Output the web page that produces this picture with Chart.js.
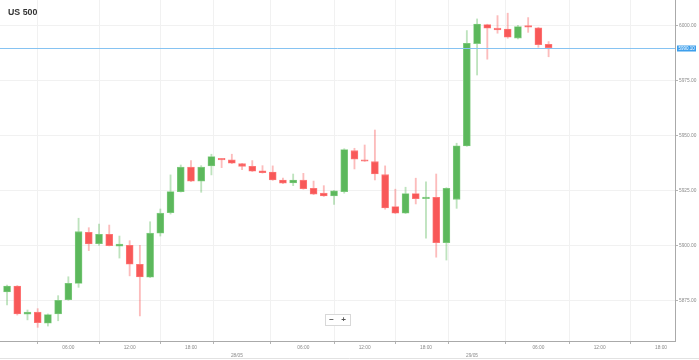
<!DOCTYPE html>
<html><head><meta charset="utf-8">
<script src="https://cdn.jsdelivr.net/npm/chart.js@4.4.0/dist/chart.umd.min.js"></script>
<style>html,body{margin:0;padding:0;background:#fff;overflow:hidden}#wrap{width:699px;height:360px;position:relative}</style>
</head><body><div id="wrap"><canvas id="c" width="699" height="360"></canvas></div>
<script>
const chartTitle = 'US 500';
const opens  = [5879.1,5881.8,5869.0,5869.9,5864.9,5869.1,5875.6,5883.0,5906.2,5901.0,5905.3,5899.9,5900.3,5891.7,5885.8,5905.8,5915.1,5924.7,5935.8,5929.4,5936.4,5939.5,5939.1,5937.4,5936.2,5934.2,5933.6,5930.0,5928.6,5929.9,5926.2,5924.0,5922.7,5924.7,5943.3,5939.1,5938.3,5932.4,5917.9,5914.9,5923.8,5921.5,5922.1,5901.5,5921.2,5945.5,5992.0,6000.6,5999.0,5998.6,5994.5,6000.0,5999.2,5991.7];
const highs  = [5882.2,5882.0,5870.9,5871.5,5869.1,5877.4,5886.0,5912.6,5908.3,5910.0,5909.5,5904.5,5902.4,5900.3,5911.0,5916.8,5932.3,5936.8,5938.8,5936.5,5941.7,5939.6,5941.7,5937.6,5938.8,5936.5,5936.4,5930.8,5932.7,5933.0,5929.5,5927.4,5925.3,5944.2,5944.4,5945.9,5952.7,5936.4,5925.8,5926.7,5930.8,5929.2,5932.7,5926.5,5946.7,5997.9,6003.2,6000.8,6004.7,6005.8,6000.3,6003.8,5999.4,5992.9];
const lows   = [5873.2,5868.6,5866.4,5863.0,5863.6,5866.0,5875.3,5881.2,5897.9,5900.3,5900.0,5894.5,5886.4,5868.2,5885.6,5904.5,5914.5,5924.5,5929.2,5924.4,5932.3,5935.6,5937.4,5934.7,5933.8,5933.1,5929.8,5928.3,5927.4,5925.8,5923.3,5922.5,5918.9,5924.0,5935.0,5938.4,5930.0,5916.7,5914.7,5914.7,5919.1,5903.5,5894.9,5893.6,5917.1,5945.3,5977.7,5984.9,5996.7,5994.4,5994.1,5997.1,5990.3,5986.0];
const closes = [5881.8,5869.1,5869.9,5865.1,5868.8,5875.3,5883.0,5906.5,5900.9,5905.3,5900.1,5900.8,5891.7,5885.9,5905.8,5914.9,5924.7,5935.8,5929.4,5935.8,5940.6,5939.1,5937.6,5936.2,5934.0,5933.3,5930.0,5928.5,5930.0,5926.0,5923.5,5922.7,5925.1,5943.8,5939.4,5938.5,5932.7,5917.3,5914.9,5923.8,5921.5,5922.1,5901.5,5926.2,5945.5,5992.1,6000.9,5999.0,5998.2,5994.9,5999.7,5999.5,5991.5,5990.1];
const lastPrice = 5990.10;
const yTicks = [5875, 5900, 5925, 5950, 5975, 6000];
const xTickPos = [6, 12, 18, 22.5, 29, 35, 41, 45.5, 52, 58, 64];
const xTickLabels = ['06:00','12:00','18:00','28/05','06:00','12:00','18:00','29/05','06:00','12:00','18:00'];
const dateLabels = ['28/05','29/05'];

const UP = 'rgb(92,184,92)', DOWN = 'rgb(248,88,88)';
const UP_W = 'rgba(92,184,92,0.4)', DOWN_W = 'rgba(248,88,88,0.4)';
const UP_B = 'rgb(130,205,130)', DOWN_B = 'rgb(255,125,125)';
const isUp = opens.map((o,i)=>closes[i]>=o);

const wickData = lows.map((l,i)=>({x:i, y:[l, highs[i]]}));
const bodyData = opens.map((o,i)=>({x:i, y:[o, closes[i]]}));

const overlay = {
  id:'overlay',
  afterDatasetsDraw(chart){
    const {ctx, chartArea:a, scales:{y}} = chart;
    const py = Math.round(y.getPixelForValue(lastPrice)) + 0.5;
    ctx.save();
    ctx.strokeStyle = '#86c3f2'; ctx.lineWidth = 1;
    ctx.beginPath(); ctx.moveTo(a.left, py); ctx.lineTo(a.right, py); ctx.stroke();
    ctx.fillStyle = '#3d9fec';
    ctx.fillRect(a.right + 2, py - 3, 19, 6);
    ctx.fillStyle = '#fff'; ctx.font = '4.5px "Liberation Sans", Arial, sans-serif';
    ctx.textBaseline = 'middle'; ctx.textAlign = 'left';
    ctx.fillText(lastPrice.toFixed(2), a.right + 3.5, py + 0.3);
    // title
    ctx.fillStyle = '#333'; ctx.font = 'bold 8.8px "Liberation Sans", Arial, sans-serif';
    ctx.fillText(chartTitle, 8, 12.5);
    // zoom buttons
    ctx.fillStyle = '#fff'; ctx.strokeStyle = '#d8d8d8';
    ctx.fillRect(325.5, 314.5, 25, 11); ctx.strokeRect(325.5, 314.5, 25, 11);
    ctx.fillStyle = '#555'; ctx.font = 'bold 8px "Liberation Sans", Arial, sans-serif';
    ctx.textAlign = 'center';
    ctx.fillText('\u2212', 331.5, 320); ctx.fillText('+', 343.5, 320);
    // bottom border
    ctx.strokeStyle = '#e2e2e2';
    ctx.beginPath(); ctx.moveTo(0, 358.5); ctx.lineTo(699, 358.5); ctx.stroke();
    ctx.restore();
  }
};

const tickFont = {family:'"Liberation Sans", Arial, sans-serif', size:4.8, lineHeight:1.6};
new Chart(document.getElementById('c'), {
  type:'bar',
  data:{datasets:[
    {data:wickData, grouped:false, barThickness:1.2, backgroundColor:isUp.map(u=>u?UP_W:DOWN_W), borderWidth:0, order:2},
    {data:bodyData, grouped:false, barThickness:7, minBarLength:1.5, backgroundColor:isUp.map(u=>u?UP:DOWN), borderColor:isUp.map(u=>u?UP_B:DOWN_B), borderWidth:0.8, borderSkipped:false, order:1}
  ]},
  options:{
    responsive:false, animation:false, devicePixelRatio:1,
    layout:{padding:0},
    plugins:{legend:{display:false}, tooltip:{enabled:false}, title:{display:false}},
    scales:{
      x:{type:'linear', min:-0.69, max:65.37, offset:false,
        afterBuildTicks:s=>{s.ticks = xTickPos.map(v=>({value:v}));},
        afterFit:s=>{s.height = 19; s.paddingLeft = 0; s.paddingRight = 0;},
        grid:{color:'#f1f1f1', tickColor:'#b5b5b5', tickLength:3, lineWidth:1},
        border:{color:'#aaa', width:1},
        ticks:{font:tickFont, color:'#8a8a8a', padding:0, maxRotation:0, autoSkip:false,
          callback:(v,i)=>{const l = xTickLabels[i]; return dateLabels.includes(l) ? ['', l] : l;}}
      },
      y:{position:'right', min:5856.8, max:6011.8,
        afterBuildTicks:s=>{s.ticks = yTicks.map(v=>({value:v}));},
        afterFit:s=>{s.width = 24; s.paddingTop = 0; s.paddingBottom = 0;},
        grid:{color:'#f1f1f1', tickColor:'#b5b5b5', tickLength:3, lineWidth:1},
        border:{color:'#aaa', width:1},
        ticks:{font:tickFont, color:'#8a8a8a', padding:1, callback:v=>Number(v).toFixed(2)}
      }
    }
  },
  plugins:[overlay]
});
</script></body></html>
